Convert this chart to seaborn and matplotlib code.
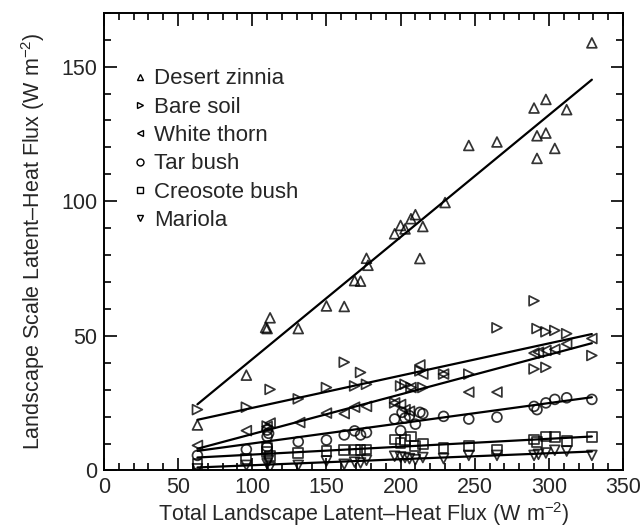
import numpy as np
import pandas as pd
import matplotlib
matplotlib.use("Agg")
import matplotlib.pyplot as plt
from matplotlib.lines import Line2D
import seaborn as sns

# ---- data ----
dz_x = [63, 96, 109, 110, 112, 131, 150, 162, 169, 173, 177, 178, 196, 200, 203, 207, 210, 213, 215,
        230, 246, 265, 290, 292, 292, 298, 298, 304, 312, 329]
dz_y = [16.9, 35.4, 53.1, 52.7, 56.7, 52.7, 61.1, 60.9, 70.5, 70.3, 78.8, 76.2, 87.9, 91.0, 89.7, 93.5, 95.0, 78.7, 90.6,
        99.5, 120.7, 122.0, 134.6, 124.3, 115.9, 137.8, 125.3, 119.6, 134.0, 158.8]

bs_x = [63, 96, 110, 112, 131, 150, 162, 169, 173, 177, 196, 200, 203, 207, 213, 215, 229, 246, 265,
        290, 290, 292, 298, 298, 304, 312, 329]
bs_y = [22.6, 23.5, 16.5, 30.1, 26.6, 30.8, 40.2, 31.4, 36.4, 32.0, 25.1, 31.4, 32.0, 30.8, 37.0, 30.8, 35.8, 35.8, 53.0,
        63.0, 37.7, 52.7, 51.5, 38.3, 52.0, 50.8, 42.7]

wt_x = [63, 96, 110, 112, 132, 150, 162, 169, 177, 196, 200, 203, 206, 207, 213, 215, 229, 246, 265,
        290, 293, 298, 304, 312, 329]
wt_y = [9.3, 14.8, 16.3, 17.6, 17.8, 21.3, 21.1, 23.5, 23.8, 25.1, 24.5, 22.6, 22.0, 30.8, 39.2, 35.8, 35.8, 29.1, 29.1,
        43.6, 43.9, 44.6, 45.0, 47.0, 49.0]

tb_x = [63, 96, 110, 111, 110, 110, 131, 150, 162, 169, 173, 177, 196, 200, 201, 203, 206, 210, 213, 215,
        229, 246, 265, 290, 292, 298, 304, 312, 329]
tb_y = [5.6, 7.8, 15.0, 13.8, 12.6, 8.8, 10.7, 11.3, 13.2, 14.7, 13.2, 14.1, 19.1, 14.8, 21.6, 19.5, 20.3, 17.2, 21.6, 21.1,
        20.1, 19.1, 19.8, 23.8, 22.6, 25.1, 26.4, 27.0, 26.4]

cb_x = [63, 96, 110, 110, 112, 131, 150, 162, 169, 173, 177, 196, 200, 203, 207, 210, 215, 229, 246, 265,
        290, 292, 298, 304, 312, 329]
cb_y = [2.3, 4.4, 8.2, 6.9, 5.5, 6.5, 7.2, 7.5, 7.5, 7.6, 7.8, 11.5, 10.3, 11.3, 12.6, 9.0, 9.8, 8.2, 9.0, 7.8,
        11.5, 10.7, 12.6, 12.3, 10.9, 12.3]

ma_x = [63, 96, 110, 111, 112, 131, 150, 162, 169, 173, 177, 196, 200, 203, 206, 210, 215, 229, 246, 265,
        290, 293, 298, 304, 312, 329]
ma_y = [0.6, 1.9, 2.5, 3.8, 1.2, 1.9, 3.5, 2.3, 3.1, 2.8, 3.8, 5.3, 5.0, 4.8, 4.4, 4.0, 4.8, 4.4, 5.6, 5.6,
        5.6, 6.0, 6.5, 7.5, 7.2, 5.6]

species = ["Desert zinnia", "Bare soil", "White thorn", "Tar bush", "Creosote bush", "Mariola"]
xs = [dz_x, bs_x, wt_x, tb_x, cb_x, ma_x]
ys = [dz_y, bs_y, wt_y, tb_y, cb_y, ma_y]
markers = ["^", ">", "<", "o", "s", "v"]

sns.set_theme(style="white")
plt.rcParams["font.family"] = ["Liberation Sans", "DejaVu Sans"]
plt.rcParams["mathtext.fontset"] = "custom"
plt.rcParams["mathtext.rm"] = "Liberation Sans"
plt.rcParams["mathtext.default"] = "regular"

fig = plt.figure(figsize=(6.44, 5.30), dpi=100)
ax = fig.add_axes([0.1615, 0.1123, 0.8059, 0.8637])

for name, x, y, m in zip(species, xs, ys, markers):
    df = pd.DataFrame({"x": x, "y": y})
    sns.regplot(data=df, x="x", y="y", ax=ax, ci=None, marker=m,
                scatter_kws=dict(s=50, facecolors="none", edgecolors="black", linewidths=1.25),
                line_kws=dict(color="black", lw=1.6), color="black")

ax.set_xlim(0, 350)
ax.set_ylim(0, 170)
ax.set_xticks(np.arange(0, 351, 50))
ax.set_yticks([0, 50, 100, 150])
ax.set_xticks(np.arange(0, 351, 10), minor=True)
ax.set_yticks(np.arange(0, 171, 10), minor=True)
ax.tick_params(which="both", direction="in", top=True, right=True, bottom=True, left=True,
               color="black", width=1.2)
ax.tick_params(which="major", length=9, labelsize=15.5, pad=5)
ax.tick_params(which="minor", length=5)
for s in ax.spines.values():
    s.set_color("black")
    s.set_linewidth(1.4)

ax.set_xlabel("Total Landscape Latent\u2013Heat Flux (W m$^{-2}$)", fontsize=15.5, labelpad=1)
ax.set_ylabel("Landscape Scale Latent\u2013Heat Flux (W m$^{-2}$)", fontsize=15.5, labelpad=10)

handles = [Line2D([], [], ls="none", marker=m, ms=5, mfc="none", mec="black", mew=1.0)
           for m in markers]
ax.legend(handles, species, loc="upper left", frameon=False, fontsize=16,
          bbox_to_anchor=(0.04, 0.898), handlelength=0.6, handletextpad=0.3,
          labelspacing=0.33, borderaxespad=0)

fig.savefig("out.png", dpi=100)
